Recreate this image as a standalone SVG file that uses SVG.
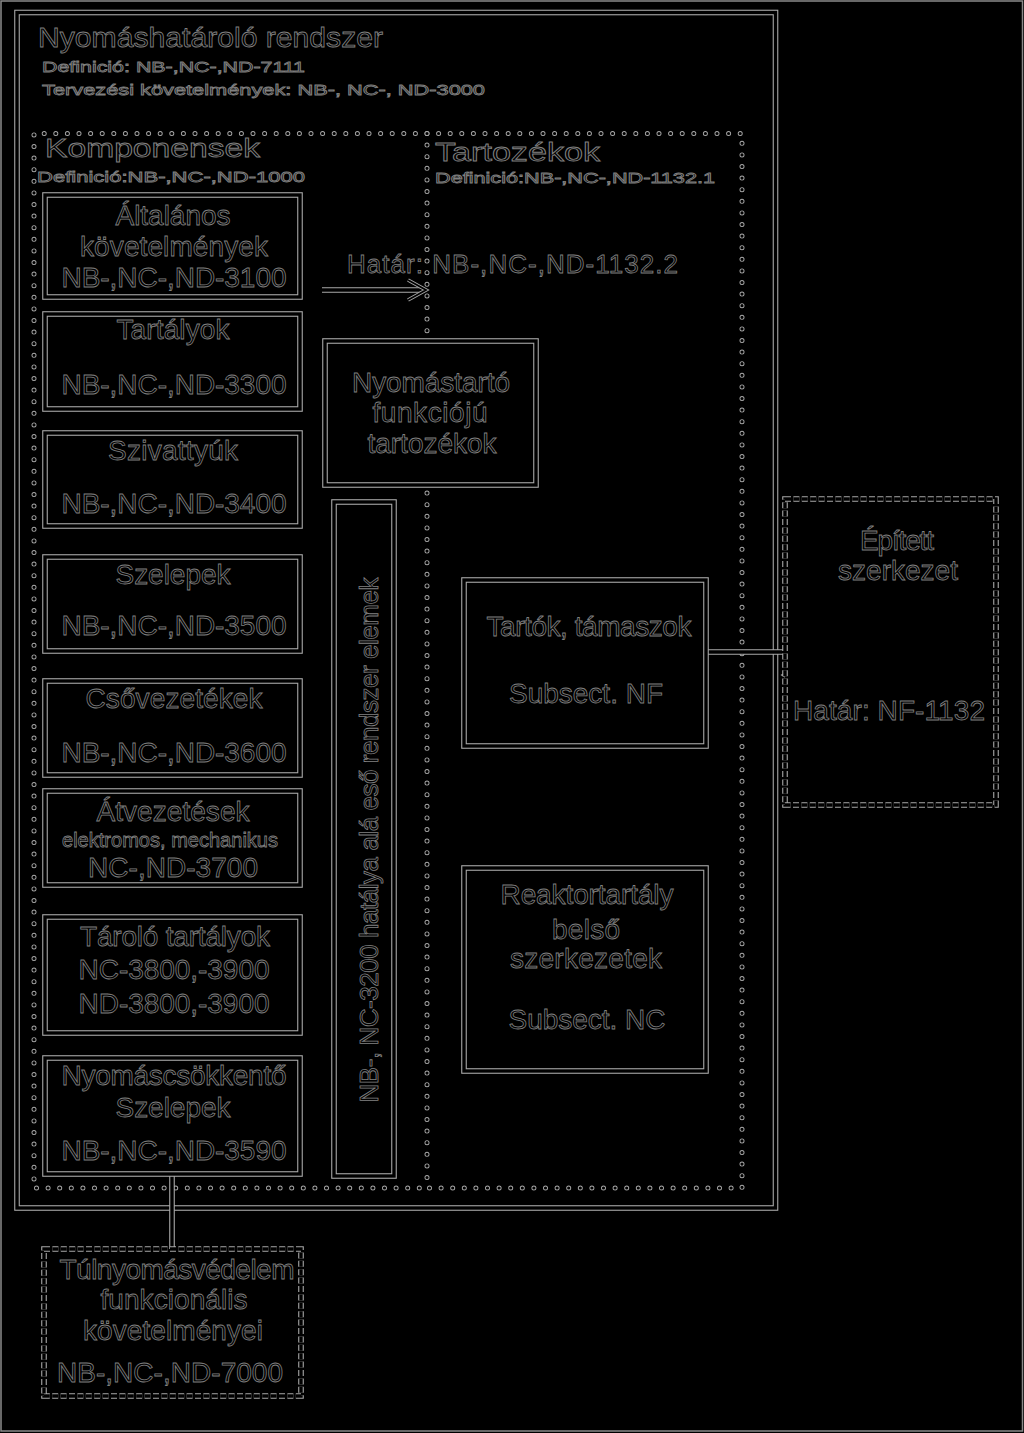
<svg xmlns="http://www.w3.org/2000/svg" width="1024" height="1433" viewBox="0 0 1024 1433">
<style>
.h{fill:none;stroke:#a8a8a8;stroke-width:5.6}
.c{fill:none;stroke:#000;stroke-width:3.4}
.f{fill:#000;stroke:#a8a8a8;stroke-width:5.6}
.dh{fill:none;stroke:#a8a8a8;stroke-width:5;stroke-dasharray:0 11.6;stroke-linecap:round}
.dc{fill:none;stroke:#000;stroke-width:3.2;stroke-dasharray:0 11.6;stroke-linecap:round}
.sh{fill:#000;stroke:#a8a8a8;stroke-width:5.6;stroke-dasharray:6 2.4}
.sc{fill:none;stroke:#000;stroke-width:3.4;stroke-dasharray:6 2.4}
.ah{fill:none;stroke:#a8a8a8;stroke-width:3.6;stroke-linejoin:miter}
.ac{fill:none;stroke:#000;stroke-width:1.8;stroke-linejoin:miter}
text{font-family:"Liberation Sans",Arial,sans-serif;fill:#000;stroke:#808080;stroke-width:0.8}
.m{text-anchor:middle;font-size:28px}
</style>
<rect x="0" y="0" width="1024" height="1433" fill="#000"/>
<rect x="1" y="1" width="1021.5" height="1430" fill="none" stroke="#8a8a8a" stroke-width="1.5"/>

<g id="nyomashatarolo-rendszer">
<rect class="h" x="17" y="12.5" width="758.5" height="1195.5"/>
<rect class="c" x="17" y="12.5" width="758.5" height="1195.5"/>
<text x="38" y="47" font-size="28" textLength="345" lengthAdjust="spacingAndGlyphs">Nyomáshatároló rendszer</text>
<text x="42" y="72" font-size="15" textLength="263" lengthAdjust="spacingAndGlyphs">Definició: NB-,NC-,ND-7111</text>
<text x="42" y="95" font-size="15" textLength="443" lengthAdjust="spacingAndGlyphs">Tervezési követelmények: NB-, NC-, ND-3000</text>
</g>

<g id="komponensek">
<path class="dh" d="M427,133.5 H34 V1188 H427"/>
<path class="dc" d="M427,133.5 H34 V1188 H427"/>
<text x="45" y="157" font-size="25" textLength="215" lengthAdjust="spacingAndGlyphs">Komponensek</text>
<text x="37" y="182" font-size="15" textLength="268" lengthAdjust="spacingAndGlyphs">Definició:NB-,NC-,ND-1000</text>
</g>

<g id="tartozekok">
<path class="dh" d="M427,133.5 H742 V1188 H427 M427,133.5 V1188"/>
<path class="dc" d="M427,133.5 H742 V1188 H427 M427,133.5 V1188"/>
<text x="435" y="161" font-size="25" textLength="165" lengthAdjust="spacingAndGlyphs">Tartozékok</text>
<text x="435" y="183" font-size="15" textLength="280" lengthAdjust="spacingAndGlyphs">Definició:NB-,NC-,ND-1132.1</text>
</g>

<g id="connectors">
<path class="h" d="M322,290 H424"/>
<path class="c" d="M322,290 H424"/>
<path class="ah" d="M408,280 L426,290 L408,300"/>
<path class="ac" d="M408,280 L426,290 L408,300"/>
<text x="347" y="273" font-size="26" textLength="331">Határ: NB-,NC-,ND-1132.2</text>
<path class="h" d="M706,652 H783"/>
<path class="c" d="M706,652 H783"/>
<path class="h" d="M885,675 H787"/>
<path class="c" d="M885,675 H787"/>
<path class="ah" d="M801,665 L784,675 L801,685"/>
<path class="ac" d="M801,665 L784,675 L801,685"/>
<path class="h" d="M172,1174 V1249"/>
<path class="c" d="M172,1174 V1249"/>
</g>

<g id="altalanos-kovetelmenyek">
<rect class="f" x="45" y="195" width="255" height="102"/>
<rect class="c" x="45" y="195" width="255" height="102"/>
<text class="m" x="173" y="225" textLength="115">Általános</text>
<text class="m" x="174" y="256" textLength="188">követelmények</text>
<text class="m" x="174" y="287" textLength="225">NB-,NC-,ND-3100</text>
</g>

<g id="tartalyok">
<rect class="f" x="45" y="314" width="255" height="95"/>
<rect class="c" x="45" y="314" width="255" height="95"/>
<text class="m" x="173" y="339" textLength="113">Tartályok</text>
<text class="m" x="174" y="394" textLength="225">NB-,NC-,ND-3300</text>
</g>

<g id="szivattyuk">
<rect class="f" x="45" y="433" width="255" height="93"/>
<rect class="c" x="45" y="433" width="255" height="93"/>
<text class="m" x="173" y="460" textLength="130">Szivattyúk</text>
<text class="m" x="174" y="513" textLength="225">NB-,NC-,ND-3400</text>
</g>

<g id="szelepek">
<rect class="f" x="45" y="557" width="255" height="94"/>
<rect class="c" x="45" y="557" width="255" height="94"/>
<text class="m" x="173" y="584" textLength="115">Szelepek</text>
<text class="m" x="174" y="635" textLength="225">NB-,NC-,ND-3500</text>
</g>

<g id="csovezetekek">
<rect class="f" x="45" y="681" width="255" height="94"/>
<rect class="c" x="45" y="681" width="255" height="94"/>
<text class="m" x="174" y="708" textLength="177">Csővezetékek</text>
<text class="m" x="174" y="762" textLength="225">NB-,NC-,ND-3600</text>
</g>

<g id="atvezetesek">
<rect class="f" x="45" y="791" width="255" height="94"/>
<rect class="c" x="45" y="791" width="255" height="94"/>
<text class="m" x="173" y="821" textLength="153">Átvezetések</text>
<text x="170" y="847" font-size="20" text-anchor="middle" textLength="216">elektromos, mechanikus</text>
<text class="m" x="173" y="877" textLength="170">NC-,ND-3700</text>
</g>

<g id="tarolo-tartalyok">
<rect class="f" x="45" y="917" width="255" height="116"/>
<rect class="c" x="45" y="917" width="255" height="116"/>
<text class="m" x="175" y="946" textLength="190">Tároló tartályok</text>
<text class="m" x="174" y="979" textLength="191">NC-3800,-3900</text>
<text class="m" x="174" y="1013" textLength="191">ND-3800,-3900</text>
</g>

<g id="nyomascsokkento-szelepek">
<rect class="f" x="45" y="1058" width="255" height="116"/>
<rect class="c" x="45" y="1058" width="255" height="116"/>
<text class="m" x="174" y="1085" textLength="225">Nyomáscsökkentő</text>
<text class="m" x="173" y="1117" textLength="115">Szelepek</text>
<text class="m" x="174" y="1160" textLength="225">NB-,NC-,ND-3590</text>
</g>

<g id="nyomastarto-tartozekok">
<rect class="f" x="325" y="341" width="211" height="144"/>
<rect class="c" x="325" y="341" width="211" height="144"/>
<text class="m" x="431" y="392" textLength="158">Nyomástartó</text>
<text class="m" x="430" y="422" textLength="115">funkciójú</text>
<text class="m" x="432" y="453" textLength="129">tartozékok</text>
</g>

<g id="nb-nc-3200-elemek">
<rect class="f" x="334" y="502" width="60" height="674"/>
<rect class="c" x="334" y="502" width="60" height="674"/>
<text x="0" y="0" font-size="26" text-anchor="middle" textLength="525" transform="translate(378,840) rotate(-90)">NB-, NC-3200 hatálya alá eső rendszer elemek</text>
</g>

<g id="tartok-tamaszok">
<rect class="f" x="464" y="580" width="242" height="166"/>
<rect class="c" x="464" y="580" width="242" height="166"/>
<text class="m" x="589" y="636" textLength="205">Tartók, támaszok</text>
<text class="m" x="586" y="703" textLength="154">Subsect. NF</text>
</g>

<g id="reaktortartaly-belso-szerkezetek">
<rect class="f" x="464" y="868" width="242" height="203"/>
<rect class="c" x="464" y="868" width="242" height="203"/>
<text class="m" x="587" y="904" textLength="173">Reaktortartály</text>
<text class="m" x="586" y="939" textLength="68">belső</text>
<text class="m" x="586" y="968" textLength="152">szerkezetek</text>
<text class="m" x="587" y="1029" textLength="157">Subsect. NC</text>
</g>

<g id="epitett-szerkezet">
<rect class="sh" x="785" y="499" width="211" height="306"/>
<rect class="sc" x="785" y="499" width="211" height="306"/>
<text class="m" x="897" y="550" textLength="74">Épített</text>
<text class="m" x="898" y="580" textLength="120">szerkezet</text>
<text class="m" x="889" y="720" textLength="192">Határ: NF-1132</text>
</g>

<g id="tulnyomasvedelem">
<rect class="sh" x="44" y="1249" width="257" height="147"/>
<rect class="sc" x="44" y="1249" width="257" height="147"/>
<text class="m" x="177" y="1279" textLength="235">Túlnyomásvédelem</text>
<text class="m" x="174" y="1309" textLength="147">funkcionális</text>
<text class="m" x="173" y="1340" textLength="180">követelményei</text>
<text class="m" x="170" y="1382" textLength="226">NB-,NC-,ND-7000</text>
</g>
</svg>
